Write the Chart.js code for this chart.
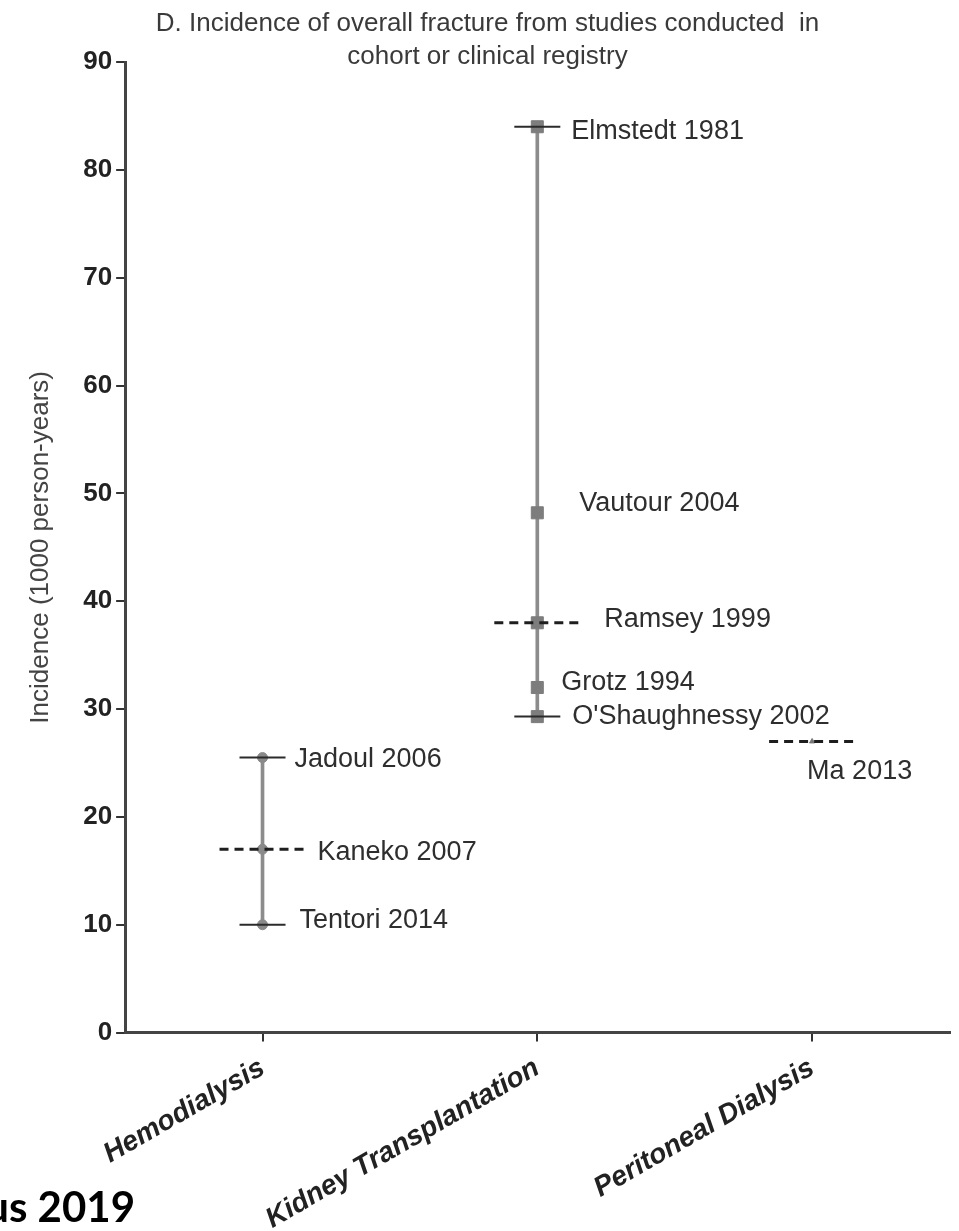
<!DOCTYPE html>
<html>
<head>
<meta charset="utf-8">
<script src="https://cdn.jsdelivr.net/npm/chart.js@4.4.1/dist/chart.umd.min.js"></script>
<style>
  html, body { margin: 0; padding: 0; background: #fff; }
  #wrap { width: 959px; height: 1231px; }
</style>
</head>
<body>
<div id="wrap"><canvas id="fractureChart" width="959" height="1231"></canvas></div>
<script>
// categories on the x axis
const categories = ['Hemodialysis', 'Kidney Transplantation', 'Peritoneal Dialysis'];

// studies, which category they belong to and their incidence
const studies = ['Jadoul 2006', 'Kaneko 2007', 'Tentori 2014',
                 'Elmstedt 1981', 'Vautour 2004', 'Ramsey 1999', 'Grotz 1994', "O'Shaughnessy 2002",
                 'Ma 2013'];
const studyCategory = [0, 0, 0, 1, 1, 1, 1, 1, 2];
const incidence = [25.5, 17, 10, 84, 48.2, 38, 32, 29.3, 27];
// kind of reference line drawn across each study point
const studyLine = ['solid', 'dashed', 'solid', 'solid', 'none', 'dashed', 'none', 'solid', 'dashed'];

// y axis tick labels
const yTicks = [0, 10, 20, 30, 40, 50, 60, 70, 80, 90];

// label placement next to each point (pixels), same order as studies
const labelOffsets = [[32, 2], [55, 3], [37, -4], [34, 5], [42, -9], [67, -3], [24, -5], [35, 0], [-5, 30]];

const FONT = '"Liberation Sans", Arial, sans-serif';

// points for one category
function pointsFor(cat) {
  const pts = [];
  studies.forEach((s, i) => {
    if (studyCategory[i] === cat) pts.push({ x: categories[cat], y: incidence[i] });
  });
  return pts;
}

// min-max range of each category (only when there is more than one study)
const ranges = categories.map((c, ci) => {
  const vals = incidence.filter((v, i) => studyCategory[i] === ci);
  return vals.length > 1 ? [Math.min(...vals), Math.max(...vals)] : null;
});

// caps, dashed lines and study names
const studyMarks = {
  id: 'studyMarks',
  afterDatasetsDraw(chart) {
    const ctx = chart.ctx;
    const xs = chart.scales.x, ys = chart.scales.y;
    ctx.save();
    studies.forEach((name, i) => {
      const px = xs.getPixelForValue(studyCategory[i]);
      const py = ys.getPixelForValue(incidence[i]);
      if (studyLine[i] === 'solid') {
        ctx.setLineDash([]);
        ctx.strokeStyle = '#2b2b2b';
        ctx.lineWidth = 2;
        ctx.beginPath();
        ctx.moveTo(px - 23, py);
        ctx.lineTo(px + 23, py);
        ctx.stroke();
      } else if (studyLine[i] === 'dashed') {
        ctx.setLineDash([9, 6]);
        ctx.strokeStyle = '#1e1e1e';
        ctx.lineWidth = 3;
        ctx.beginPath();
        ctx.moveTo(px - 43, py);
        ctx.lineTo(px + 43, py);
        ctx.stroke();
      }
      ctx.setLineDash([]);
      ctx.fillStyle = '#2e2e2e';
      ctx.font = '27px ' + FONT;
      ctx.textAlign = 'left';
      ctx.textBaseline = 'middle';
      ctx.fillText(name, px + labelOffsets[i][0], py + labelOffsets[i][1]);
    });
    ctx.restore();
  },
  afterDraw(chart) {
    // cropped caption of the source slide
    const ctx = chart.ctx;
    ctx.save();
    ctx.fillStyle = '#000';
    ctx.font = 'bold 42px Lato, "Open Sans", sans-serif';
    ctx.textAlign = 'right';
    ctx.textBaseline = 'alphabetic';
    ctx.fillText('us 2019', 135, 1222);
    ctx.restore();
  }
};

const ctx = document.getElementById('fractureChart').getContext('2d');
const fractureChart = new Chart(ctx, {
  data: {
    labels: categories,
    datasets: [
      {
        type: 'line',
        label: 'Hemodialysis',
        data: pointsFor(0),
        showLine: false,
        pointStyle: 'circle',
        pointRadius: 5,
        pointBackgroundColor: '#8a8a8a',
        pointBorderColor: '#8a8a8a',
        pointBorderWidth: 1
      },
      {
        type: 'line',
        label: 'Kidney Transplantation',
        data: pointsFor(1),
        showLine: false,
        pointStyle: 'rect',
        pointRadius: 8.5,
        pointBackgroundColor: '#7d7d7d',
        pointBorderColor: '#7d7d7d',
        pointBorderWidth: 1
      },
      {
        type: 'line',
        label: 'Peritoneal Dialysis',
        data: pointsFor(2),
        showLine: false,
        pointStyle: 'triangle',
        pointRadius: 3,
        pointBackgroundColor: '#777',
        pointBorderColor: '#777',
        pointBorderWidth: 1
      },
      {
        type: 'bar',
        label: 'Range',
        data: ranges,
        backgroundColor: '#8c8c8c',
        barThickness: 3,
        grouped: false
      }
    ]
  },
  options: {
    responsive: false,
    animation: false,
    layout: { padding: { left: 25, right: 9, top: 0, bottom: -15 } },
    plugins: {
      legend: { display: false },
      tooltip: { enabled: false },
      title: {
        display: true,
        text: ['D. Incidence of overall fracture from studies conducted  in', 'cohort or clinical registry'],
        color: '#3a3a3a',
        font: { family: FONT, size: 26, weight: 'normal', lineHeight: 1.27 },
        padding: { top: 7, bottom: -11 }
      }
    },
    scales: {
      x: {
        type: 'category',
        offset: true,
        border: { display: true, color: '#444', width: 3 },
        grid: { display: true, drawOnChartArea: false, offset: false, tickLength: 9, color: '#333', lineWidth: 2 },
        ticks: {
          minRotation: 30, maxRotation: 30, autoSkip: false, padding: 10,
          color: '#222',
          font: { family: FONT, size: 28, weight: 'bold', style: 'italic' }
        }
      },
      y: {
        min: yTicks[0],
        max: yTicks[yTicks.length - 1],
        afterBuildTicks(scale) { scale.ticks = yTicks.map(v => ({ value: v })); },
        border: { display: true, color: '#444', width: 3 },
        grid: { display: true, drawOnChartArea: false, tickLength: 9, color: '#333', lineWidth: 2 },
        ticks: {
          padding: 4,
          color: '#222',
          font: { family: FONT, size: 26, weight: 'bold' }
        },
        title: {
          display: true,
          text: 'Incidence (1000 person-years)',
          color: '#444',
          font: { family: FONT, size: 26, weight: 'normal' },
          padding: { top: 0, bottom: 23 }
        }
      }
    }
  },
  plugins: [studyMarks]
});
</script>
</body>
</html>
